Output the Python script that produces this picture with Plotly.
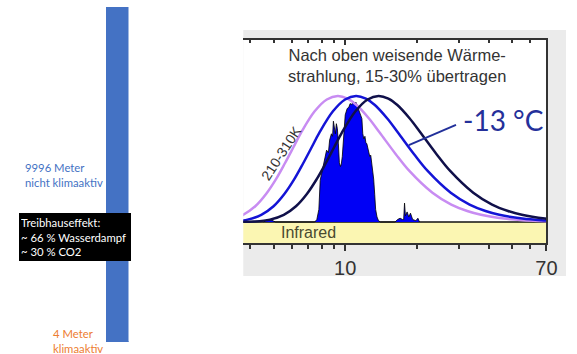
import math
import plotly.graph_objects as go

W, H = 577, 354

# ---------------- data ----------------
bar_categories = ["Atmosphäre"]
bar_active_m = [4]          # klimaaktiv
bar_inactive_m = [9996]     # nicht klimaaktiv

# normalized up-going thermal radiation curves (wavelength in µm, relative intensity)
violet_wl = [2.79, 3.26, 3.72, 4.19, 4.65, 5.12, 5.58, 6.05, 6.51, 7.44, 8.37, 9.3, 10.23, 11.16,
             12.56, 13.95, 16.28, 18.6, 23.25, 27.9, 32.55, 37.2, 46.5, 55.8, 65.1, 74.4]
violet_val = [0.004, 0.019, 0.057, 0.125, 0.222, 0.340, 0.466, 0.591, 0.705, 0.878, 0.972, 1.0,
              0.979, 0.928, 0.823, 0.710, 0.540, 0.405, 0.232, 0.138, 0.087, 0.057, 0.027, 0.014,
              0.008, 0.005]
blue_wl = [3.33, 3.89, 4.44, 5.0, 5.55, 6.11, 6.66, 7.22, 7.77, 8.88, 9.99, 11.1, 12.21, 13.32,
           14.99, 16.65, 19.43, 22.2, 27.75, 33.3, 38.85, 44.4, 55.5, 66.6, 77.7, 88.8]
blue_val = [0.004, 0.019, 0.057, 0.125, 0.222, 0.340, 0.466, 0.591, 0.705, 0.878, 0.972, 1.0,
            0.979, 0.928, 0.823, 0.710, 0.540, 0.405, 0.232, 0.138, 0.087, 0.057, 0.027, 0.014,
            0.008, 0.005]
dark_wl = [3.6, 4.14, 4.83, 5.52, 6.21, 6.9, 7.59, 8.28, 8.97, 9.66, 11.04, 12.42, 13.8, 15.18,
           16.56, 18.63, 20.7, 24.15, 27.6, 34.5, 41.4, 48.3, 55.2, 69.0, 82.8, 96.6]
dark_val = [0.001, 0.004, 0.019, 0.057, 0.125, 0.222, 0.340, 0.466, 0.591, 0.705, 0.878, 0.972,
            1.0, 0.979, 0.928, 0.823, 0.710, 0.540, 0.405, 0.232, 0.138, 0.087, 0.057, 0.027,
            0.014, 0.008]

# transmitted spectrum (filled blue)
spec_wl = [4.55, 4.7, 4.9, 5.1, 7.45, 7.6, 7.75, 7.85, 7.95, 8.1, 8.25, 8.35, 8.5, 8.6, 8.75,
           8.85, 8.92, 9.0, 9.09, 9.18, 9.27, 9.36, 9.45, 9.55, 9.63, 9.72, 9.81, 9.9, 10.0,
           10.19, 10.35, 10.49, 10.65, 10.79, 10.95, 11.1, 11.25, 11.42, 11.6, 11.75, 11.85,
           11.97, 12.1, 12.21, 12.33, 12.44, 12.56, 12.68, 12.8, 12.92, 13.05, 13.17, 13.3,
           13.42, 13.6, 13.8, 14.06, 16.2, 16.6, 17.0, 17.4, 17.6, 17.75, 17.9, 18.2, 18.5,
           18.8, 19.2, 19.8, 20.2, 20.5]
spec_val = [0, 0.02, 0.015, 0, 0, 0.02, 0.10, 0.33, 0.38, 0.45, 0.50, 0.57, 0.55, 0.65, 0.70,
            0.68, 0.80, 0.74, 0.70, 0.78, 0.74, 0.62, 0.47, 0.44, 0.46, 0.52, 0.62, 0.72, 0.85,
            0.90, 0.91, 0.94, 0.93, 0.96, 0.94, 0.95, 0.92, 0.90, 0.86, 0.82, 0.70, 0.66, 0.68,
            0.63, 0.62, 0.58, 0.57, 0.52, 0.53, 0.48, 0.42, 0.34, 0.22, 0.10, 0.04, 0.01, 0,
            0, 0.02, 0.03, 0.02, 0.02, 0.15, 0.05, 0.08, 0.04, 0.07, 0.02, 0.01, 0.03, 0]

pointer_wl = [18.5, 29.2]
pointer_val = [0.61, 0.77]

minor_ticks = [4, 5, 6, 7, 8, 9, 20, 30, 40, 50, 60]
major_ticks = [10, 70]
major_labels = ["10", "70"]

# ---------------- layout helpers ----------------
def px(x):
    return x / W

def py(y):
    return 1 - y / H

X0, X1 = 248, 557
Y_TOP, Y_BOT = 40, 243
XR = [math.log10(3.73), math.log10(70)]
YR = [-0.1667, 1.444]

fig = go.Figure()

# left bar: 10000 m column
fig.add_trace(go.Bar(x=bar_categories, y=bar_active_m, marker_color="#4472C4",
                     marker_line_width=0, xaxis="x2", yaxis="y2", width=1))
fig.add_trace(go.Bar(x=bar_categories, y=bar_inactive_m, marker_color="#4472C4",
                     marker_line_width=0, xaxis="x2", yaxis="y2", width=1))

# spectrum and curves
fig.add_trace(go.Scatter(x=spec_wl, y=spec_val, mode="lines", fill="tozeroy",
                         fillcolor="#0000f5", line=dict(color="#000000", width=0.8)))
fig.add_trace(go.Scatter(x=violet_wl, y=violet_val, mode="lines", line_shape="spline",
                         line=dict(color="#c88cf2", width=2.5)))
fig.add_trace(go.Scatter(x=blue_wl, y=blue_val, mode="lines", line_shape="spline",
                         line=dict(color="#1414d6", width=2.5)))
fig.add_trace(go.Scatter(x=dark_wl, y=dark_val, mode="lines", line_shape="spline",
                         line=dict(color="#10104a", width=2.5)))
fig.add_trace(go.Scatter(x=pointer_wl, y=pointer_val, mode="lines",
                         line=dict(color="#22309a", width=2)))
# invisible trace so the top axis is drawn
fig.add_trace(go.Scatter(x=[10], y=[0.5], mode="markers", opacity=0, xaxis="x3",
                         hoverinfo="skip"))

shapes = [
    dict(type="rect", xref="paper", yref="paper", x0=px(248), x1=1, y0=py(276), y1=py(30),
         fillcolor="#ebebeb", line_width=0, layer="below"),
    dict(type="rect", xref="paper", yref="paper", x0=px(X0), x1=px(X1), y0=py(Y_BOT),
         y1=py(Y_TOP), fillcolor="#ffffff", line_width=0, layer="below"),
    dict(type="rect", xref="x domain", yref="y", x0=0, x1=1, y0=YR[0], y1=0,
         fillcolor="#fbf6b2", line_width=0, layer="below"),
    dict(type="line", xref="x domain", yref="y", x0=0, x1=1, y0=0, y1=0,
         line=dict(color="#111111", width=1.5), layer="below"),
]

annotations = []

def txt(text, x, y, size, color, family="Lato", **kw):
    annotations.append(dict(text=text, xref="paper", yref="paper", x=px(x), y=py(y),
                            xanchor="left", yanchor="middle", showarrow=False, align="left",
                            font=dict(size=size, color=color, family=family), **kw))

txt("9996 Meter<br>nicht klimaaktiv", 23, 175, 11.3, "#4472C4")
txt("Treibhauseffekt:<br>~ 66 % Wasserdampf<br>~ 30 % CO2", 19, 237, 11.3, "#ffffff",
    bgcolor="#000000", bordercolor="#000000", width=108, height=44, borderpad=1)
txt("4 Meter<br>klimaaktiv", 52, 341, 11.3, "#ED7D31")

def dtxt(text, wl, v, size, color, family="Liberation Sans", xanchor="center", angle=0):
    annotations.append(dict(text=text, xref="x", yref="y", x=math.log10(wl), y=v,
                            xanchor=xanchor, yanchor="middle", showarrow=False,
                            textangle=angle,
                            font=dict(size=size, color=color, family=family)))

dtxt("Nach oben weisende Wärme-<br>strahlung, 15-30% übertragen", 16.5, 1.238, 16.5, "#333333")
dtxt("-13 °C", 30.7, 0.81, 28, "#25309a", family="Lato", xanchor="left")
dtxt("Infrared", 7.0, -0.087, 16, "#4a4a30")
dtxt("210-310K", 5.4, 0.544, 14, "#333333", angle=-57)

fig.update_layout(
    width=W, height=H,
    autosize=False,
    margin=dict(l=0, r=0, t=0, b=0),
    paper_bgcolor="#ffffff",
    plot_bgcolor="rgba(0,0,0,0)",
    showlegend=False,
    barmode="stack",
    bargap=0,
    shapes=shapes,
    annotations=annotations,
    xaxis=dict(type="log", range=XR, domain=[px(X0), px(X1)], showgrid=False, zeroline=False,
               showline=True, linecolor="#333333", linewidth=1.5,
               tickmode="array", tickvals=major_ticks, ticktext=major_labels,
               ticks="outside", ticklen=6, tickwidth=1.5, tickcolor="#333333",
               tickfont=dict(size=20, color="#333333", family="Liberation Sans"),
               minor=dict(tickmode="array", tickvals=minor_ticks, ticks="outside",
                          ticklen=4, tickwidth=1.5, tickcolor="#333333"),
               anchor="y"),
    xaxis3=dict(type="log", range=XR, overlaying="x", side="top", showgrid=False,
                zeroline=False, showline=True, linecolor="#333333", linewidth=1.5,
                tickmode="array", tickvals=major_ticks, ticktext=["", ""],
                ticks="inside", ticklen=5, tickwidth=1.5, tickcolor="#333333",
                minor=dict(tickmode="array", tickvals=minor_ticks, ticks="inside",
                           ticklen=3, tickwidth=1.5, tickcolor="#333333"),
                anchor="y"),
    yaxis=dict(range=YR, domain=[py(Y_BOT), py(Y_TOP)], side="right", showgrid=False,
               zeroline=False, showline=True, linecolor="#333333", linewidth=1.5,
               showticklabels=False, ticks="", anchor="x"),
    xaxis2=dict(domain=[px(108), px(131)], range=[-0.5, 0.5], visible=False, anchor="y2",
                type="category"),
    yaxis2=dict(domain=[py(342), py(7)], range=[0, 10000], visible=False, anchor="x2"),
)

fig.write_html("out.html", config={"responsive": False})
